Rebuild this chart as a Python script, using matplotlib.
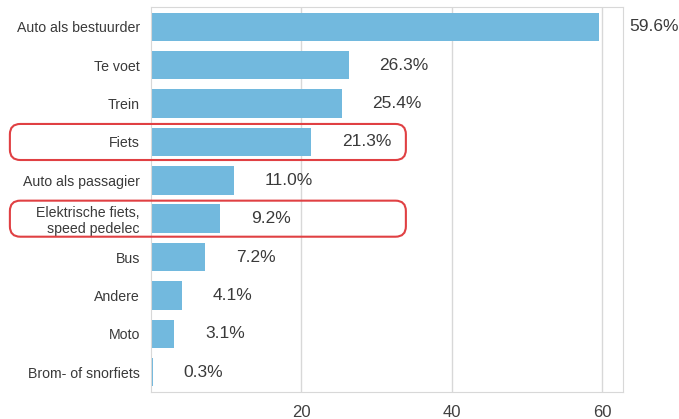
import matplotlib.pyplot as plt
from matplotlib.patches import FancyBboxPatch
from matplotlib.transforms import blended_transform_factory

plt.rcParams['font.family'] = ['Liberation Sans', 'DejaVu Sans']

categories = ["Auto als bestuurder", "Te voet", "Trein", "Fiets", "Auto als passagier",
              "Elektrische fiets,\nspeed pedelec", "Bus", "Andere", "Moto", "Brom- of snorfiets"]
values = [59.6, 26.3, 25.4, 21.3, 11.0, 9.2, 7.2, 4.1, 3.1, 0.3]
labels = ["59.6%", "26.3%", "25.4%", "21.3%", "11.0%", "9.2%", "7.2%", "4.1%", "3.1%", "0.3%"]
highlight = ["Fiets", "Elektrische fiets,\nspeed pedelec"]

fig = plt.figure(figsize=(6.79, 4.19), dpi=100)
ax = fig.add_axes([0.2224, 0.0644, 0.6951, 0.9189])

y = list(range(len(categories)))
ax.barh(y, values, height=0.74, color="#72b9de", zorder=2)
ax.set_yticks(y)
ax.set_yticklabels(categories, fontsize=10.2, color="#3a3a3a")
ax.set_ylim(9.52, -0.52)
ax.set_xlim(0, 62.8)
ax.set_xticks([20, 40, 60])
ax.tick_params(axis='x', length=0, labelsize=12, labelcolor="#404040", pad=9)
ax.tick_params(axis='y', length=0, pad=8)
ax.grid(axis='x', color="#d8d8d8", linewidth=1, zorder=0)
for s in ax.spines.values():
    s.set_color("#d8d8d8")

for yi, v, lab in zip(y, values, labels):
    ax.annotate(lab, (v, yi), xytext=(22, 0), textcoords="offset points",
                ha="left", va="center", fontsize=12.5, color="#3a3a3a")

# red rounded boxes around the highlighted rows
tr = blended_transform_factory(ax.transAxes, ax.transData)
ax_w_px = 0.6951 * 679
ax_h_px = 0.9189 * 419
px_x = ax_w_px / 1.0
px_y = ax_h_px / 10.04
for name in highlight:
    i = categories.index(name)
    x0, x1 = -0.299, 0.540
    box = FancyBboxPatch((x0, i - 0.47), x1 - x0, 0.94,
                         boxstyle="round,pad=0,rounding_size=0.022",
                         mutation_aspect=px_x / px_y,
                         transform=tr, clip_on=False, fill=False,
                         edgecolor="#e04043", linewidth=1.5, zorder=5)
    ax.add_patch(box)

fig.savefig("out.png", dpi=100)
